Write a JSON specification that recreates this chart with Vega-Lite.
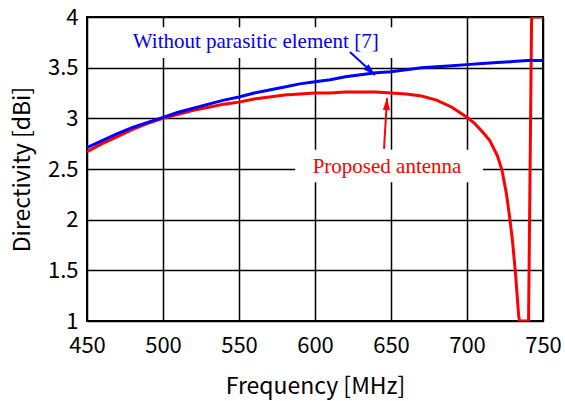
{
  "$schema": "https://vega.github.io/schema/vega-lite/v6.json",
  "width": 456,
  "height": 304,
  "autosize": {"type": "none"},
  "padding": {"left": 87, "top": 17, "right": 22, "bottom": 80},
  "background": "white",
  "config": {
    "view": {"stroke": "black", "strokeWidth": 2},
    "axis": {
      "grid": true,
      "gridColor": "black",
      "gridOpacity": 1,
      "gridWidth": 1.5,
      "ticks": false,
      "domain": false,
      "labelFlush": false,
      "labelOverlap": false,
      "labelFont": "Noto Sans CJK JP",
      "labelFontSize": 22,
      "labelColor": "black",
      "titleFont": "Noto Sans CJK JP",
      "titleFontSize": 23,
      "titleFontWeight": "normal",
      "titleColor": "black"
    }
  },
  "datasets": {
    "curves": [
      {"freq": 450, "dbi": 2.67, "series": "Proposed antenna"},
      {"freq": 460, "dbi": 2.75, "series": "Proposed antenna"},
      {"freq": 470, "dbi": 2.82, "series": "Proposed antenna"},
      {"freq": 480, "dbi": 2.89, "series": "Proposed antenna"},
      {"freq": 490, "dbi": 2.95, "series": "Proposed antenna"},
      {"freq": 500, "dbi": 3.00, "series": "Proposed antenna"},
      {"freq": 510, "dbi": 3.04, "series": "Proposed antenna"},
      {"freq": 520, "dbi": 3.08, "series": "Proposed antenna"},
      {"freq": 530, "dbi": 3.11, "series": "Proposed antenna"},
      {"freq": 540, "dbi": 3.14, "series": "Proposed antenna"},
      {"freq": 550, "dbi": 3.16, "series": "Proposed antenna"},
      {"freq": 560, "dbi": 3.19, "series": "Proposed antenna"},
      {"freq": 570, "dbi": 3.21, "series": "Proposed antenna"},
      {"freq": 580, "dbi": 3.23, "series": "Proposed antenna"},
      {"freq": 590, "dbi": 3.24, "series": "Proposed antenna"},
      {"freq": 600, "dbi": 3.25, "series": "Proposed antenna"},
      {"freq": 610, "dbi": 3.25, "series": "Proposed antenna"},
      {"freq": 620, "dbi": 3.26, "series": "Proposed antenna"},
      {"freq": 630, "dbi": 3.26, "series": "Proposed antenna"},
      {"freq": 640, "dbi": 3.26, "series": "Proposed antenna"},
      {"freq": 650, "dbi": 3.25, "series": "Proposed antenna"},
      {"freq": 660, "dbi": 3.24, "series": "Proposed antenna"},
      {"freq": 670, "dbi": 3.22, "series": "Proposed antenna"},
      {"freq": 680, "dbi": 3.18, "series": "Proposed antenna"},
      {"freq": 690, "dbi": 3.11, "series": "Proposed antenna"},
      {"freq": 700, "dbi": 3.01, "series": "Proposed antenna"},
      {"freq": 705, "dbi": 2.95, "series": "Proposed antenna"},
      {"freq": 710, "dbi": 2.87, "series": "Proposed antenna"},
      {"freq": 715, "dbi": 2.78, "series": "Proposed antenna"},
      {"freq": 720, "dbi": 2.63, "series": "Proposed antenna"},
      {"freq": 723, "dbi": 2.49, "series": "Proposed antenna"},
      {"freq": 726, "dbi": 2.25, "series": "Proposed antenna"},
      {"freq": 728, "dbi": 2.03, "series": "Proposed antenna"},
      {"freq": 730, "dbi": 1.78, "series": "Proposed antenna"},
      {"freq": 732, "dbi": 1.45, "series": "Proposed antenna"},
      {"freq": 734, "dbi": 1.05, "series": "Proposed antenna"},
      {"freq": 734.5, "dbi": 1.0, "series": "Proposed antenna"},
      {"freq": 740.5, "dbi": 1.0, "series": "Proposed antenna"},
      {"freq": 742.5, "dbi": 4.0, "series": "Proposed antenna"},
      {"freq": 750, "dbi": 4.0, "series": "Proposed antenna"},
      {"freq": 450, "dbi": 2.71, "series": "Without parasitic element [7]"},
      {"freq": 460, "dbi": 2.78, "series": "Without parasitic element [7]"},
      {"freq": 470, "dbi": 2.85, "series": "Without parasitic element [7]"},
      {"freq": 480, "dbi": 2.91, "series": "Without parasitic element [7]"},
      {"freq": 490, "dbi": 2.96, "series": "Without parasitic element [7]"},
      {"freq": 500, "dbi": 3.01, "series": "Without parasitic element [7]"},
      {"freq": 510, "dbi": 3.06, "series": "Without parasitic element [7]"},
      {"freq": 520, "dbi": 3.10, "series": "Without parasitic element [7]"},
      {"freq": 530, "dbi": 3.14, "series": "Without parasitic element [7]"},
      {"freq": 540, "dbi": 3.18, "series": "Without parasitic element [7]"},
      {"freq": 550, "dbi": 3.21, "series": "Without parasitic element [7]"},
      {"freq": 560, "dbi": 3.25, "series": "Without parasitic element [7]"},
      {"freq": 570, "dbi": 3.28, "series": "Without parasitic element [7]"},
      {"freq": 580, "dbi": 3.31, "series": "Without parasitic element [7]"},
      {"freq": 590, "dbi": 3.34, "series": "Without parasitic element [7]"},
      {"freq": 600, "dbi": 3.36, "series": "Without parasitic element [7]"},
      {"freq": 610, "dbi": 3.38, "series": "Without parasitic element [7]"},
      {"freq": 620, "dbi": 3.41, "series": "Without parasitic element [7]"},
      {"freq": 630, "dbi": 3.43, "series": "Without parasitic element [7]"},
      {"freq": 640, "dbi": 3.45, "series": "Without parasitic element [7]"},
      {"freq": 650, "dbi": 3.46, "series": "Without parasitic element [7]"},
      {"freq": 660, "dbi": 3.48, "series": "Without parasitic element [7]"},
      {"freq": 670, "dbi": 3.50, "series": "Without parasitic element [7]"},
      {"freq": 680, "dbi": 3.51, "series": "Without parasitic element [7]"},
      {"freq": 690, "dbi": 3.52, "series": "Without parasitic element [7]"},
      {"freq": 700, "dbi": 3.53, "series": "Without parasitic element [7]"},
      {"freq": 710, "dbi": 3.54, "series": "Without parasitic element [7]"},
      {"freq": 720, "dbi": 3.55, "series": "Without parasitic element [7]"},
      {"freq": 730, "dbi": 3.56, "series": "Without parasitic element [7]"},
      {"freq": 740, "dbi": 3.57, "series": "Without parasitic element [7]"},
      {"freq": 750, "dbi": 3.57, "series": "Without parasitic element [7]"}
    ],
    "labels": [
      {"series": "Without parasitic element [7]", "freq": 561, "dbi": 3.694, "boxFreq": 473, "boxFreq2": 655, "boxDbi": 3.90, "boxDbi2": 3.595, "tailFreq": 623, "tailDbi": 3.655, "tipFreq": 639.5, "tipDbi": 3.428},
      {"series": "Proposed antenna", "freq": 647.4, "dbi": 2.46, "boxFreq": 587, "boxFreq2": 710.5, "boxDbi": 2.69, "boxDbi2": 2.37, "tailFreq": 645.4, "tailDbi": 2.70, "tipFreq": 647.4, "tipDbi": 3.20}
    ]
  },
  "layer": [
    {
      "data": {"name": "labels"},
      "mark": {"type": "rect", "fill": "white", "stroke": null},
      "encoding": {
        "x": {"field": "boxFreq", "type": "quantitative", "scale": {"domain": [450, 750], "nice": false, "zero": false, "padding": 0},
              "axis": {"values": [450, 500, 550, 600, 650, 700, 750], "title": "Frequency [MHz]", "labelPadding": 14, "titlePadding": 19}},
        "x2": {"field": "boxFreq2"},
        "y": {"field": "boxDbi", "type": "quantitative", "scale": {"domain": [1, 4], "nice": false, "zero": false, "padding": 0},
              "axis": {"values": [1, 1.5, 2, 2.5, 3, 3.5, 4], "format": "~g", "title": "Directivity [dBi]", "labelPadding": 9, "titlePadding": 13}},
        "y2": {"field": "boxDbi2"}
      }
    },
    {
      "data": {"name": "curves"},
      "mark": {"type": "line", "strokeWidth": 3, "clip": true},
      "encoding": {
        "x": {"field": "freq", "type": "quantitative"},
        "y": {"field": "dbi", "type": "quantitative"},
        "color": {"field": "series", "type": "nominal", "scale": {"domain": ["Proposed antenna", "Without parasitic element [7]"], "range": ["#ff0000", "#0000ff"]}, "legend": null},
        "order": {"field": "freq", "type": "quantitative"}
      }
    },
    {
      "data": {"name": "labels"},
      "mark": {"type": "rule", "strokeWidth": 2},
      "encoding": {
        "x": {"field": "tailFreq", "type": "quantitative"},
        "y": {"field": "tailDbi", "type": "quantitative"},
        "x2": {"field": "tipFreq"},
        "y2": {"field": "tipDbi"},
        "color": {"field": "series", "type": "nominal", "legend": null}
      }
    },
    {
      "data": {"name": "labels"},
      "transform": [{"filter": "datum.series === 'Proposed antenna'"}],
      "mark": {"type": "point", "shape": "M0,0L0.6,2L-0.6,2Z", "filled": true, "opacity": 1, "size": 144, "angle": 3},
      "encoding": {
        "x": {"field": "tipFreq", "type": "quantitative"},
        "y": {"field": "tipDbi", "type": "quantitative"},
        "color": {"field": "series", "type": "nominal", "legend": null}
      }
    },
    {
      "data": {"name": "labels"},
      "transform": [{"filter": "datum.series !== 'Proposed antenna'"}],
      "mark": {"type": "point", "shape": "M0,0L0.6,2L-0.6,2Z", "filled": true, "opacity": 1, "size": 144, "angle": 132},
      "encoding": {
        "x": {"field": "tipFreq", "type": "quantitative"},
        "y": {"field": "tipDbi", "type": "quantitative"},
        "color": {"field": "series", "type": "nominal", "legend": null}
      }
    },
    {
      "data": {"name": "labels"},
      "mark": {"type": "text", "font": "Liberation Serif", "fontSize": 21, "align": "center", "baseline": "alphabetic"},
      "encoding": {
        "x": {"field": "freq", "type": "quantitative"},
        "y": {"field": "dbi", "type": "quantitative"},
        "text": {"field": "series"},
        "color": {"field": "series", "type": "nominal", "legend": null}
      }
    }
  ]
}
